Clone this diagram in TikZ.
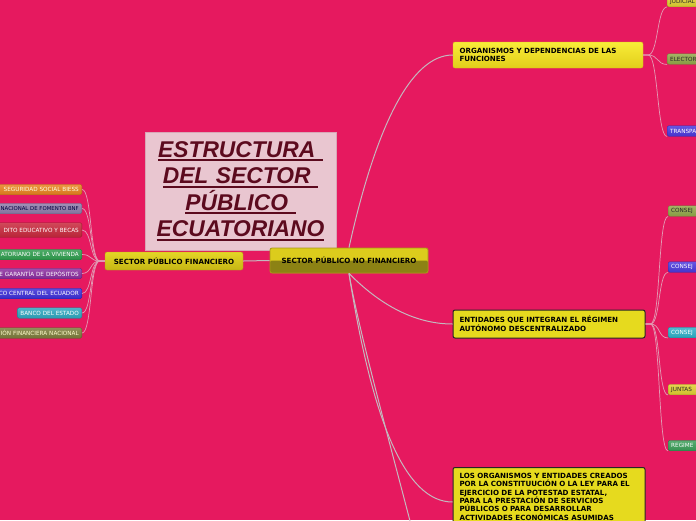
\documentclass[tikz,border=0pt]{standalone}
\usepackage{fontspec}
\setmainfont{DejaVu Sans}
\newfontfamily\titlefont{Liberation Sans}
\definecolor{bg}{HTML}{E6195F}
\definecolor{titlefill}{HTML}{E9C6D0}
\definecolor{titledraw}{HTML}{D9A6B6}
\definecolor{titletext}{HTML}{5C0A1E}
\definecolor{mconnc}{HTML}{C4B8BE}
\definecolor{cconnc}{HTML}{E29CB4}
\definecolor{lorange}{HTML}{E8821E}
\definecolor{lgrey}{HTML}{8E7CAA}
\definecolor{lcrimson}{HTML}{C8283C}
\definecolor{lgreen}{HTML}{2E9E4E}
\definecolor{lpurple}{HTML}{8C2EA0}
\definecolor{lblue}{HTML}{3C2ED8}
\definecolor{lteal}{HTML}{2EA8C0}
\definecolor{lolive}{HTML}{7C7C3C}
\definecolor{ryellow}{HTML}{E0D030}
\definecolor{rolive}{HTML}{92A848}
\definecolor{rblue}{HTML}{4A38DC}
\definecolor{rteal}{HTML}{2EB0C8}
\definecolor{rgreen}{HTML}{3A9E58}
\definecolor{boxyellow}{HTML}{E6DA1E}
\definecolor{spftop}{HTML}{E4D626}
\definecolor{spfbot}{HTML}{C6B614}
\definecolor{spfdraw}{HTML}{B0A014}
\definecolor{spnftop}{HTML}{DCCC1C}
\definecolor{spnfbot}{HTML}{8C8214}
\definecolor{spnfdraw}{HTML}{A89818}
\definecolor{orgtop}{HTML}{F8EC38}
\definecolor{orgbot}{HTML}{E2CE1A}
\definecolor{orgdraw}{HTML}{D6C41E}
\newsavebox\ulbox
\newcommand{\tul}[1]{\leavevmode\sbox\ulbox{#1}\rlap{\usebox\ulbox}\rule[-4pt]{\wd\ulbox}{1.8pt}}
\newcommand{\leaff}{\fontsize{5.7}{6.5}\selectfont}
\newcommand{\mainf}{\fontsize{7.1}{8.5}\selectfont\bfseries}
\tikzset{
  leafbox/.style={draw=#1!75!black, top color=#1!85!white, bottom color=#1!92!black,
    rounded corners=1.5pt, inner xsep=3pt, inner ysep=0pt, minimum height=10.5pt,
    font=\leaff, text=white},
  lleaf/.style={anchor=east, text width=#1, align=right},
  rleaf/.style={anchor=west, text width=60pt, align=left},
  mainbox/.style={rounded corners=2pt, font=\mainf, text=black, inner sep=0pt},
  mconn/.style={draw=mconnc, line width=1pt},
  cconn/.style={draw=cconnc, line width=0.7pt},
}
\begin{document}
\begin{tikzpicture}[x=1pt,y=-1pt]
\useasboundingbox (0,0) rectangle (696,520);
\fill[bg] (0,0) rectangle (696,520);

\path (240.5,191) coordinate (ptitle) (174,261) coordinate (pspf) (349,260.5) coordinate (pspnf)
  (548,55) coordinate (porg) (549,324) coordinate (pent) (549,467) coordinate (plos);

% title
\node[draw=titledraw, fill=titlefill, minimum width=191pt, minimum height=118pt,
  text width=187pt, align=center, inner sep=0pt, text=titletext,
  font=\titlefont\bfseries\itshape\fontsize{22.8}{26.5}\selectfont] (title) at (ptitle)
  {\tul{ESTRUCTURA\ }\\\tul{DEL SECTOR\ }\\\tul{PÚBLICO\ }\\\tul{ECUATORIANO}};

% main nodes
\node[mainbox, top color=spftop, bottom color=spfbot, draw=spfdraw,
  minimum width=138pt, minimum height=18pt] (spf) at (pspf) {SECTOR PÚBLICO FINANCIERO};
\node[mainbox, fill=spnftop, draw=spnfdraw, line width=0.8pt,
  minimum width=158pt, minimum height=25pt,
  path picture={\fill[spnfbot] (path picture bounding box.west) rectangle (path picture bounding box.south east);}]
  (spnf) at (pspnf) {SECTOR PÚBLICO NO FINANCIERO};
\node[mainbox, top color=orgtop, bottom color=orgbot, draw=orgdraw,
  minimum width=190pt, minimum height=26pt, text width=177pt, align=left] (org) at (porg)
  {ORGANISMOS Y DEPENDENCIAS DE LAS\\FUNCIONES};
\node[mainbox, fill=boxyellow, draw=black!85, line width=1pt,
  minimum width=192pt, minimum height=28pt, text width=179pt, align=left] (ent) at (pent)
  {ENTIDADES QUE INTEGRAN EL RÉGIMEN\\AUTÓNOMO DESCENTRALIZADO};
\node[mainbox, fill=boxyellow, draw=black!85, line width=1pt, anchor=north,
  minimum width=192pt, text width=179pt, align=left, inner ysep=5.5pt,
  font=\fontsize{7.1}{8.4}\selectfont\bfseries] (los) at (plos)
  {LOS ORGANISMOS Y ENTIDADES CREADOS\\POR LA CONSTITUUCIÓN O LA LEY PARA EL\\EJERCICIO DE LA POTESTAD ESTATAL,\\PARA LA PRESTACIÓN DE SERVICIOS\\PÚBLICOS O PARA DESARROLLAR\\ACTIVIDADES ECONÓMICAS ASUMIDAS};
\coordinate (c4) at (420,560);

% left leaves
\node[leafbox=lorange, lleaf=95pt, text=white!90!yellow] (l1) at (82,189.5) {SEGURIDAD SOCIAL BIESS};
\node[leafbox=lgrey, lleaf=95pt, text=black!75!blue, font=\fontsize{5.35}{6.5}\selectfont] (l2) at (82,208.5) {NACIONAL DE FOMENTO BNF};
\node[leafbox=lcrimson, lleaf=95pt, minimum height=14.5pt] (l3) at (82,230) {DITO EDUCATIVO Y BECAS};
\node[leafbox=lgreen, lleaf=95pt] (l4) at (82,254.5) {ATORIANO DE LA VIVIENDA};
\node[leafbox=lpurple, lleaf=95pt] (l5) at (82,273.5) {E GARANTÍA DE DEPÓSITOS};
\node[leafbox=lblue, lleaf=95pt] (l6) at (82,293.5) {CO CENTRAL DEL ECUADOR};
\node[leafbox=lteal, anchor=east] (l7) at (82,313) {BANCO DEL ESTADO};
\node[leafbox=lolive, lleaf=95pt, text=white!80!yellow] (l8) at (82,333) {IÓN FINANCIERA NACIONAL};

% right leaves of org
\node[leafbox=ryellow, rleaf, text=black!85] (r1) at (667,1.5) {JUDICIAL};
\node[leafbox=rolive, rleaf, text=black!85] (r2) at (667,59) {ELECTOR};
\node[leafbox=rblue, rleaf] (r3) at (667,131) {TRANSPA};
% right leaves of ent
\node[leafbox=rolive, rleaf, text=black!85] (e1) at (668,211) {CONSEJ};
\node[leafbox=rblue, rleaf] (e2) at (668,267) {CONSEJ};
\node[leafbox=rteal, rleaf] (e3) at (668,332.5) {CONSEJ};
\node[leafbox=ryellow, rleaf, text=black!85] (e4) at (668,389.5) {JUNTAS};
\node[leafbox=rgreen, rleaf] (e5) at (668,445.5) {REGIME};

% connectors
\draw[mconn] (spf.east) -- (spnf.west);
\draw[mconn] (spnf.north) .. controls (375,130) and (410,55) .. (org.west);
\draw[mconn] (spnf.south) .. controls (380,305) and (415,324) .. (ent.west);
\draw[mconn] (spnf.south) .. controls (372,420) and (405,502) .. (los.west |- 0,502);
\draw[mconn] (spnf.south) .. controls (358,330) and (400,480) .. (c4);

\foreach \n in {l1,l2,l3,l4,l5,l6,l7,l8}
  \draw[cconn] (spf.west) -- +(-5,0) .. controls +(-10,0) and +(10,0) .. (\n.east);
\foreach \n in {r1,r2,r3}
  \draw[cconn] (org.east) -- +(5,0) .. controls +(10,0) and +(-10,0) .. (\n.south west);
\foreach \n in {e1,e2,e3,e4,e5}
  \draw[cconn] (ent.east) -- +(5,0) .. controls +(10,0) and +(-10,0) .. (\n.south west);
\end{tikzpicture}
\end{document}
